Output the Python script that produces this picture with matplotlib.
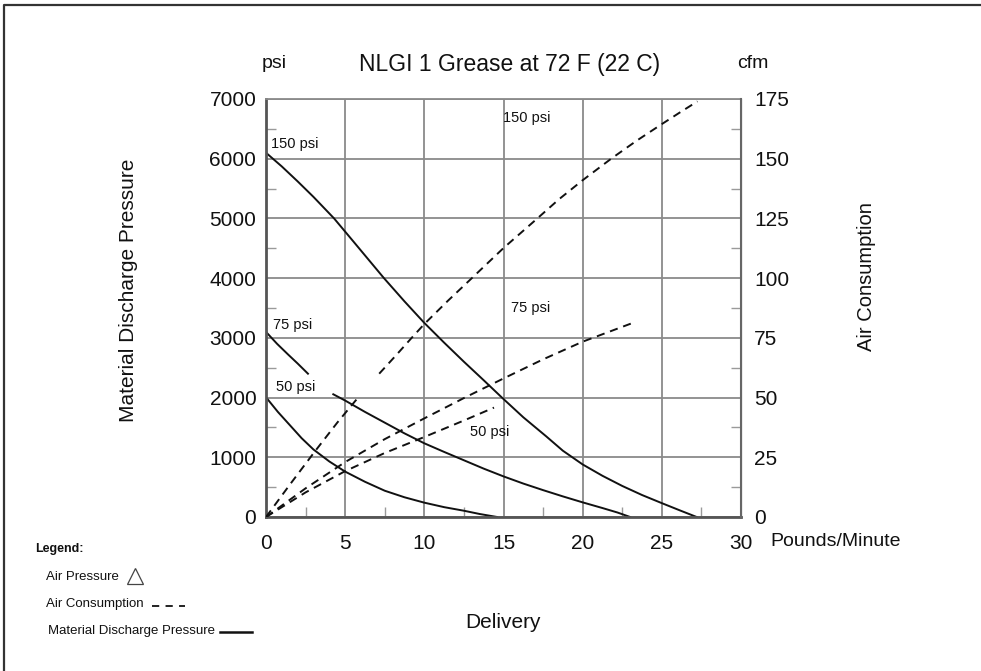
import numpy as np
import matplotlib
matplotlib.use("Agg")
import matplotlib.pyplot as plt
from matplotlib import font_manager
from matplotlib.lines import Line2D
from matplotlib.ticker import MultipleLocator

# --- data: material discharge pressure (psi) vs delivery (lb/min) ---
mdp_150_x = [0, 1, 2, 3, 4.3, 5.5, 7.45, 8.75, 10, 11.25, 12.5, 13.75, 14.9,
             16.25, 17.7, 18.75, 20, 21.25, 22.5, 23.75, 25, 26.1, 27.2]
mdp_150_y = [6100, 5870, 5620, 5360, 5000, 4620, 4000, 3610, 3250, 2920, 2600, 2290, 2000,
             1670, 1350, 1110, 880, 690, 520, 368, 232, 115, 0]

mdp_75_x = [0, 0.7, 1.4, 2.0, 2.65, np.nan, 4.25, 5, 6.25, 7.5, 8.75, 10, 11.25, 12.5,
            13.75, 15, 16.25, 17.5, 18.75, 20, 21.25, 22.2, 23.0]
mdp_75_y = [3100, 2900, 2720, 2570, 2400, np.nan, 2055, 1950, 1760, 1580, 1400, 1234, 1090, 950,
            810, 680, 560, 450, 345, 245, 150, 75, 0]

mdp_50_x = [0, 0.75, 1.5, 2.25, 3, 4, 5, 6.25, 7.5, 8.75, 10, 11.25, 12.5, 13.5, 14.6]
mdp_50_y = [2005, 1760, 1540, 1320, 1130, 930, 760, 590, 440, 330, 240, 165, 105, 50, 0]

# --- data: air consumption (cfm) vs delivery ---
air_150_x = [0, 1.5, 3, 4.5, 5.94, np.nan, 7.15, 8.2, 9.2, 10, 11.5, 13, 15, 17, 18.5,
             20, 21.8, 23.4, 25, 26.1, 27.25]
air_150_y = [0, 13.5, 26.7, 39.5, 51, np.nan, 60, 67.6, 75, 80.8, 90.6, 100, 112.6, 124.2, 133,
             141, 150, 157.5, 164.5, 169.2, 174]

air_75_x = [0, 2.5, 5, 7.5, 10, 12.5, 15, 17.5, 20, 23.1]
air_75_y = [0, 12, 23, 32.6, 41.3, 49.8, 58, 66, 73.4, 81.1]

air_50_x = [0, 2.5, 5, 7.5, 10, 12.5, 14.4]
air_50_y = [0, 10.3, 19.2, 26.8, 33.5, 40.4, 45.8]

psi_ticks = [0, 1000, 2000, 3000, 4000, 5000, 6000, 7000]
cfm_ticks = [0, 25, 50, 75, 100, 125, 150, 175]
x_ticks = [0, 5, 10, 15, 20, 25, 30]

installed = {f.name for f in font_manager.fontManager.ttflist}
MAIN = "Liberation Sans" if "Liberation Sans" in installed else "DejaVu Sans"
plt.rcParams["font.family"] = [MAIN, "DejaVu Sans"]

fig = plt.figure(figsize=(9.81, 6.71), dpi=100)
ax = fig.add_axes([266 / 981, 1 - 517 / 671, 475 / 981, 418 / 671])
ax2 = ax.twinx()

ink = "#111111"
grid_c = "#8a8a8a"

ax.set_xlim(0, 30)
ax.set_ylim(0, 7000)
ax2.set_ylim(0, 175)

ax.set_xticks(x_ticks)
ax.set_yticks(psi_ticks)
ax2.set_yticks(cfm_ticks)
ax.xaxis.set_minor_locator(MultipleLocator(2.5))
ax.yaxis.set_minor_locator(MultipleLocator(500))
ax2.yaxis.set_minor_locator(MultipleLocator(12.5))

ax.grid(True, which="major", color=grid_c, lw=1.3)
ax.set_axisbelow(True)

ax.tick_params(which="major", length=0, labelsize=15, colors=ink)
ax.tick_params(axis="x", which="major", pad=12)
ax.tick_params(axis="y", which="major", pad=7)
ax.tick_params(which="minor", direction="in", length=7, width=1.0, color="#9a9a9a")
ax2.tick_params(which="major", length=0, labelsize=15, colors=ink, pad=9.5)
ax2.tick_params(which="minor", direction="in", length=7, width=1.0, color="#9a9a9a")

for side in ("left", "bottom"):
    ax.spines[side].set_color("#555555")
    ax.spines[side].set_linewidth(2.0)
ax.spines["top"].set_color(grid_c)
ax.spines["top"].set_linewidth(1.3)
ax2.spines["right"].set_color("#666666")
ax2.spines["right"].set_linewidth(1.5)
for s in ("left", "bottom", "top"):
    ax2.spines[s].set_visible(False)

lw = 1.4
ax.plot(mdp_150_x, mdp_150_y, color=ink, lw=lw)
ax.plot(mdp_75_x, mdp_75_y, color=ink, lw=lw)
ax.plot(mdp_50_x, mdp_50_y, color=ink, lw=lw)

dash = (4.2, 3.0)
ax2.plot(air_150_x, air_150_y, color=ink, lw=lw, dashes=dash)
ax2.plot(air_75_x, air_75_y, color=ink, lw=lw, dashes=dash)
ax2.plot(air_50_x, air_50_y, color=ink, lw=lw, dashes=dash)

# curve labels (air pressure)
lab = dict(fontsize=10.5, color=ink, va="center", ha="left")
ax.text(0.3, 6250, "150 psi", **lab)
ax.text(0.42, 3215, "75 psi", **lab)
ax.text(0.63, 2180, "50 psi", **lab)
ax2.text(14.95, 167, "150 psi", **lab)
ax2.text(15.45, 87.3, "75 psi", **lab)
ax2.text(12.9, 35.6, "50 psi", **lab)

# titles and axis names
fig.text(510 / 981, 1 - 64 / 671, "NLGI 1 Grease at 72 F (22 C)", fontsize=16.5,
         ha="center", va="center", color=ink)
fig.text(274 / 981, 1 - 64 / 671, "psi", fontsize=14,
         ha="center", va="center", color=ink)
fig.text(753 / 981, 1 - 64 / 671, "cfm", fontsize=14,
         ha="center", va="center", color=ink)
fig.text(128 / 981, 1 - 290 / 671, "Material Discharge Pressure", fontsize=15,
         rotation=90, ha="center", va="center", color=ink)
fig.text(866 / 981, 1 - 277 / 671, "Air Consumption", fontsize=14.5,
         rotation=90, ha="center", va="center", color=ink)
fig.text(770 / 981, 1 - 541 / 671, "Pounds/Minute", fontsize=14,
         ha="left", va="center", color=ink)
fig.text(503 / 981, 1 - 623 / 671, "Delivery", fontsize=15,
         ha="center", va="center", color=ink)

# legend block
fig.text(35 / 981, 1 - 549 / 671, "Legend:", fontsize=9, weight="bold",
         ha="left", va="center", color=ink)
fig.text(46 / 981, 1 - 577 / 671, "Air Pressure", fontsize=9.5,
         ha="left", va="center", color=ink)
fig.text(46 / 981, 1 - 604 / 671, "Air Consumption", fontsize=9.5,
         ha="left", va="center", color=ink)
fig.text(48 / 981, 1 - 631 / 671, "Material Discharge Pressure", fontsize=9.5,
         ha="left", va="center", color=ink)
fig.add_artist(Line2D([135 / 981], [1 - 576 / 671], marker="^", markersize=11,
                      markerfacecolor="white", markeredgecolor="#444444",
                      markeredgewidth=0.9, transform=fig.transFigure))
fig.add_artist(Line2D([152 / 981, 185 / 981], [1 - 606 / 671, 1 - 606 / 671],
                      color=ink, lw=1.3, dashes=(4, 3.5), transform=fig.transFigure))
fig.add_artist(Line2D([220 / 981, 252 / 981], [1 - 632 / 671, 1 - 632 / 671],
                      color=ink, lw=1.8, transform=fig.transFigure))

# page frame (top and left edges)
fig.add_artist(Line2D([4 / 981, 4 / 981, 1.0], [0.0, 1 - 5 / 671, 1 - 5 / 671],
                      color="#333333", lw=1.6, transform=fig.transFigure))

fig.savefig("out.png", dpi=100)
